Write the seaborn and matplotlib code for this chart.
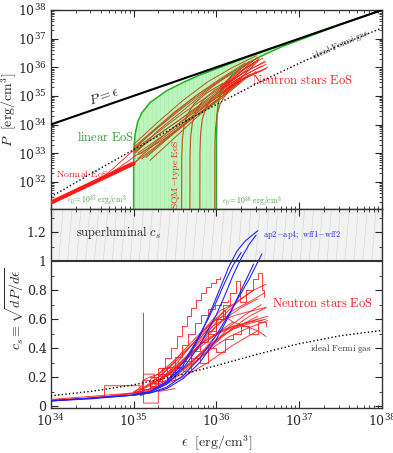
import numpy as np
import pandas as pd
import seaborn as sns
import matplotlib
matplotlib.use("Agg")
import matplotlib.pyplot as plt
import matplotlib.transforms as mtransforms
from matplotlib.ticker import FixedLocator, FixedFormatter, LogLocator, NullFormatter

# ---------------- data (log10 epsilon, log10 P  /  c_s) ----------------
peq_eps = [34.0, 38.0]
peq_logp = [34.0, 38.0]

fermi_eps = [34.0, 34.5, 35.0, 35.5, 36.0, 36.5, 37.0, 37.5, 38.0]
fermi_logp = [31.47, 32.31, 33.12, 33.92, 34.70, 35.45, 36.14, 36.78, 37.375]
fermi_cs = [0.070, 0.102, 0.146, 0.205, 0.279, 0.358, 0.430, 0.485, 0.522]

# linear EoS boundaries, eps0 = 1e35 and 1e36
lin35_eps = [35.0, 35.002, 35.01, 35.02, 35.05, 35.1, 35.2, 35.4, 35.6, 35.8, 36.0, 36.5, 37.0, 37.5, 38.0]
lin35_logp = [30.0, 32.66, 33.37, 33.67, 34.09, 34.41, 34.77, 35.18, 35.47, 35.73, 35.95, 36.49, 36.996, 37.4986, 37.9996]
lin36_eps = [36.0, 36.002, 36.01, 36.02, 36.05, 36.1, 36.2, 36.4, 36.6, 36.8, 37.0, 37.5, 38.0]
lin36_logp = [30.0, 33.66, 34.37, 34.67, 35.09, 35.41, 35.77, 36.18, 36.47, 36.73, 36.95, 37.49, 37.996]

normal_eps = [34.0, 35.0]
normal_logp = [31.27, 32.64]
branch_eps = [[34.6, 34.75, 34.9, 35.0], [34.65, 34.8, 34.95, 35.02], [34.7, 34.85, 35.0, 35.05]]
branch_logp = [[32.1, 32.45, 32.85, 33.1], [32.17, 32.45, 32.75, 32.9], [32.24, 32.42, 32.65, 32.75]]

brown_eps = [
    [35.0, 35.3, 35.6, 35.9, 36.2, 36.48],
    [35.0, 35.3, 35.6, 35.9, 36.2, 36.45],
    [35.05, 35.35, 35.65, 35.95, 36.25, 36.5],
    [35.0, 35.2, 35.5, 35.8, 36.1, 36.4],
    [35.1, 35.4, 35.7, 36.0, 36.3],
    [35.0, 35.25, 35.55, 35.85, 36.15, 36.45],
    [35.15, 35.45, 35.75, 36.05, 36.3],
    [35.0, 35.3, 35.6, 35.9, 36.2],
    [35.05, 35.35, 35.65, 35.95, 36.2],
    [35.2, 35.5, 35.8, 36.1, 36.35],
    [35.0, 35.15, 35.45, 35.75, 36.05, 36.35],
    [35.0, 35.3, 35.6, 35.9, 36.2],
    [35.0, 35.1, 35.4, 35.7, 36.0, 36.25],
    [35.02, 35.3, 35.6, 35.9, 36.15],
    [35.0, 35.2, 35.5, 35.8, 36.1, 36.3],
    [35.05, 35.25, 35.55, 35.85, 36.1, 36.4],
]
brown_logp = [
    [33.3, 34.1, 34.85, 35.5, 36.0, 36.4],
    [33.1, 33.75, 34.4, 35.0, 35.55, 36.1],
    [33.0, 33.6, 34.25, 34.85, 35.5, 36.2],
    [33.2, 33.7, 34.45, 35.1, 35.65, 36.2],
    [32.8, 33.5, 34.2, 34.85, 35.5],
    [33.05, 33.55, 34.15, 34.8, 35.45, 36.25],
    [32.85, 33.6, 34.3, 34.95, 35.55],
    [33.15, 33.9, 34.6, 35.25, 35.8],
    [32.95, 33.45, 34.1, 34.7, 35.3],
    [32.75, 33.55, 34.35, 35.0, 35.6],
    [33.1, 33.55, 34.3, 35.0, 35.6, 36.15],
    [32.65, 33.3, 34.0, 34.75, 35.3],
    [32.9, 33.0, 33.7, 34.4, 35.0, 35.5],
    [33.0, 33.8, 34.5, 35.2, 35.75],
    [33.0, 33.45, 34.05, 34.65, 35.25, 35.6],
    [32.8, 33.3, 33.95, 34.6, 35.15, 35.75],
]

sqm_eps = [
    [35.58, 35.582, 35.59, 35.61, 35.65, 35.73, 35.88, 36.08],
    [35.68, 35.682, 35.69, 35.71, 35.75, 35.83, 35.98, 36.18],
    [35.80, 35.802, 35.81, 35.83, 35.87, 35.95, 36.10, 36.30],
    [35.98, 35.982, 35.99, 36.01, 36.05, 36.13, 36.28],
]
sqm_logp = [
    [30.0, 32.77, 33.47, 33.96, 34.35, 34.72, 35.10, 35.44],
    [30.0, 32.87, 33.57, 34.06, 34.45, 34.82, 35.20, 35.54],
    [30.0, 32.99, 33.69, 34.18, 34.57, 34.94, 35.32, 35.66],
    [30.0, 33.17, 33.87, 34.36, 34.75, 35.12, 35.50],
]

tail_eps = [
    [36.05, 36.3, 36.55], [36.05, 36.3, 36.58], [36.1, 36.35, 36.6], [36.1, 36.3, 36.52],
    [36.08, 36.3, 36.6], [36.12, 36.35, 36.6], [36.05, 36.25, 36.5], [36.15, 36.4, 36.62],
    [36.1, 36.3, 36.55], [36.05, 36.3, 36.5], [36.12, 36.32, 36.56], [36.08, 36.28, 36.48],
]
tail_logp = [
    [35.2, 35.65, 36.05], [35.25, 35.75, 36.2], [35.3, 35.75, 36.1], [35.35, 35.85, 36.3],
    [35.15, 35.55, 35.95], [35.4, 35.85, 36.2], [35.3, 35.8, 36.25], [35.3, 35.7, 36.0],
    [35.2, 35.6, 35.9], [35.35, 35.95, 36.35], [35.45, 35.9, 36.32], [35.1, 35.5, 35.85],
]

# sound speed, neutron star EoS
red_eps = [
    [34.0, 34.5, 35.0, 35.2, 35.4, 35.6, 35.8, 36.0, 36.2, 36.4, 36.6],
    [34.0, 35.0, 35.2, 35.4, 35.6, 35.8, 36.0, 36.2, 36.4, 36.55],
    [35.0, 35.2, 35.4, 35.6, 35.8, 36.0, 36.2, 36.4, 36.6],
    [35.1, 35.3, 35.5, 35.7, 35.9, 36.1, 36.3, 36.5],
    [35.0, 35.3, 35.5, 35.7, 35.9, 36.1, 36.3, 36.5],
    [35.2, 35.4, 35.6, 35.8, 36.0, 36.1, 36.2],
    [35.3, 35.5, 35.7, 35.9, 36.05, 36.2, 36.35, 36.5, 36.6],
    [35.5, 35.7, 35.9, 36.1, 36.3, 36.5],
    [35.8, 36.0, 36.16, 36.35, 36.54],
    [35.6, 35.8, 36.0, 36.16, 36.35, 36.62],
    [35.4, 35.6, 35.8, 36.0, 36.2, 36.4, 36.58],
    [35.3, 35.5, 35.7, 35.9, 36.05, 36.2],
    [34.0, 34.6, 35.0, 35.3, 35.6, 35.9, 36.2, 36.5],
    [34.5, 34.65, 34.65, 35.08, 35.08, 35.2],
    [35.05, 35.12, 35.12, 35.25, 35.25, 35.35, 35.35, 35.45, 35.45, 35.55],
    [35.0, 35.12, 35.12, 35.12, 35.2, 35.3, 35.5],
    [35.12, 35.12, 35.3, 35.3, 35.5],
    [35.2, 35.4, 35.6, 35.8, 35.95, 36.1, 36.25, 36.45, 36.6],
    [35.3, 35.5, 35.7, 35.85, 36.0, 36.15, 36.3, 36.45],
    [35.6, 35.75, 35.9, 36.05, 36.2, 36.35, 36.5, 36.62],
    [35.15, 35.35, 35.55, 35.75, 35.95, 36.1],
    [35.7, 35.85, 36.0, 36.15, 36.3, 36.45, 36.6],
]
red_cs = [
    [0.04, 0.055, 0.085, 0.12, 0.18, 0.26, 0.36, 0.46, 0.53, 0.57, 0.6],
    [0.045, 0.09, 0.14, 0.21, 0.31, 0.42, 0.5, 0.55, 0.58, 0.59],
    [0.08, 0.11, 0.16, 0.23, 0.33, 0.44, 0.54, 0.62, 0.68],
    [0.12, 0.18, 0.27, 0.37, 0.47, 0.52, 0.56, 0.6],
    [0.1, 0.17, 0.25, 0.36, 0.5, 0.6, 0.68, 0.74],
    [0.15, 0.25, 0.38, 0.5, 0.6, 0.62, 0.58],
    [0.13, 0.2, 0.3, 0.42, 0.52, 0.58, 0.55, 0.52, 0.48],
    [0.22, 0.3, 0.4, 0.5, 0.56, 0.62],
    [0.35, 0.45, 0.55, 0.63, 0.70],
    [0.25, 0.33, 0.42, 0.48, 0.53, 0.59],
    [0.2, 0.3, 0.42, 0.55, 0.66, 0.72, 0.78],
    [0.16, 0.28, 0.42, 0.56, 0.66, 0.7],
    [0.04, 0.06, 0.09, 0.13, 0.2, 0.3, 0.42, 0.52],
    [0.06, 0.065, 0.14, 0.14, 0.07, 0.1],
    [0.1, 0.1, 0.22, 0.22, 0.15, 0.15, 0.26, 0.26, 0.2, 0.3],
    [0.09, 0.15, 0.64, 0.18, 0.2, 0.22, 0.3],
    [0.12, 0.02, 0.02, 0.1, 0.12],
    [0.18, 0.27, 0.37, 0.47, 0.55, 0.6, 0.63, 0.66, 0.68],
    [0.17, 0.26, 0.38, 0.5, 0.6, 0.68, 0.74, 0.8],
    [0.3, 0.38, 0.45, 0.52, 0.55, 0.57, 0.6, 0.62],
    [0.14, 0.22, 0.33, 0.45, 0.58, 0.66],
    [0.38, 0.48, 0.58, 0.66, 0.74, 0.8, 0.84],
]
step_eps = [
    [35.2, 35.3, 35.38, 35.45, 35.52, 35.58, 35.64, 35.7, 35.76, 35.82, 35.88, 35.94, 36.0, 36.05],
    [35.1, 35.2, 35.3, 35.4, 35.5, 35.58, 35.66, 35.74, 35.82, 35.9, 35.98, 36.06, 36.14],
    [35.9, 36.0, 36.08, 36.16, 36.24, 36.28, 36.36, 36.44, 36.5, 36.55, 36.58],
    [35.0, 35.1, 35.2, 35.3, 35.4, 35.5, 35.6, 35.7, 35.8, 35.9, 36.0, 36.1, 36.2, 36.3, 36.4, 36.5, 36.6],
    [35.1, 35.2, 35.3, 35.4, 35.5, 35.6, 35.7, 35.8, 35.9, 36.0, 36.1],
]
step_cs = [
    [0.2, 0.26, 0.33, 0.4, 0.48, 0.55, 0.62, 0.68, 0.73, 0.78, 0.82, 0.85, 0.88, 0.89],
    [0.12, 0.16, 0.21, 0.27, 0.34, 0.42, 0.5, 0.57, 0.63, 0.67, 0.7, 0.72, 0.73],
    [0.5, 0.6, 0.7, 0.78, 0.86, 0.72, 0.8, 0.88, 0.92, 0.8, 0.75],
    [0.1, 0.18, 0.14, 0.22, 0.18, 0.27, 0.24, 0.33, 0.3, 0.4, 0.37, 0.46, 0.5, 0.55, 0.5, 0.58, 0.55],
    [0.1, 0.13, 0.17, 0.22, 0.26, 0.31, 0.38, 0.44, 0.52, 0.6, 0.66],
]
# ap2-ap4, wff1-wff2
blue_eps = [
    [34.0, 34.5, 35.0, 35.2, 35.4, 35.6, 35.8, 35.95, 36.05, 36.15, 36.25, 36.35, 36.5],
    [34.0, 35.0, 35.2, 35.4, 35.6, 35.8, 36.0, 36.1, 36.2, 36.3, 36.4, 36.48],
    [34.0, 35.0, 35.2, 35.4, 35.6, 35.8, 36.0, 36.2, 36.4, 36.55],
    [35.0, 35.2, 35.4, 35.6, 35.8, 36.0, 36.15, 36.3, 36.45],
    [35.0, 35.2, 35.4, 35.6, 35.75, 35.9, 36.0, 36.1, 36.2, 36.3],
]
blue_cs = [
    [0.035, 0.05, 0.075, 0.1, 0.16, 0.28, 0.48, 0.68, 0.82, 0.96, 1.07, 1.14, 1.21],
    [0.035, 0.075, 0.095, 0.15, 0.26, 0.42, 0.63, 0.76, 0.9, 1.02, 1.12, 1.18],
    [0.035, 0.075, 0.09, 0.13, 0.21, 0.33, 0.49, 0.68, 0.88, 1.05],
    [0.075, 0.09, 0.12, 0.19, 0.3, 0.46, 0.62, 0.8, 0.98],
    [0.08, 0.1, 0.17, 0.3, 0.44, 0.6, 0.72, 0.85, 0.97, 1.06],
]

p_ticks = [1e32, 1e33, 1e34, 1e35, 1e36, 1e37, 1e38]
cs_ticks = [0, 0.2, 0.4, 0.6, 0.8, 1.0, 1.2]
cs_ticklabels = ["0", "0.2", "0.4", "0.6", "0.8", "1", "1.2"]


def long_df(eps_list, val_list, logval=True):
    rows = []
    for i, (e, v) in enumerate(zip(eps_list, val_list)):
        for a, b in zip(e, v):
            rows.append((i, 10.0 ** a, 10.0 ** b if logval else b))
    return pd.DataFrame(rows, columns=["id", "eps", "val"])


def curves(ax, eps_list, val_list, logval=True, **kw):
    df = long_df(eps_list, val_list, logval)
    sns.lineplot(data=df, x="eps", y="val", units="id", estimator=None, sort=False,
                 legend=False, ax=ax, **kw)


sns.set_theme(style="ticks")
plt.rcParams["font.family"] = "serif"
plt.rcParams["font.serif"] = ["DejaVu Serif"]
plt.rcParams["mathtext.fontset"] = "cm"
plt.rcParams["hatch.linewidth"] = 0.4

RED = "#ff1a1a"
BROWN = "#b8561c"
GREEN = "#22b022"
BLUE = "#2222ff"
TXTGREEN = "#3a9a3a"

fig = plt.figure(figsize=(3.93, 4.53), dpi=100)
ax1 = fig.add_axes([0.129, 0.5386, 0.843, 0.4393])
ax2 = fig.add_axes([0.129, 0.0993, 0.843, 0.4393])

for ax in (ax1, ax2):
    ax.set_xscale("log")
ax1.set_yscale("log")

# ---------- top panel ----------
fill_x = [10.0 ** a for a in lin35_eps] + [10.0 ** a for a in lin36_eps[::-1]]
fill_y = [10.0 ** a for a in lin35_logp] + [10.0 ** a for a in lin36_logp[::-1]]
ax1.fill(fill_x, fill_y, facecolor="#bdf6bd", edgecolor="#a6eaa6", hatch="||||", linewidth=0, zorder=1)
curves(ax1, [lin35_eps, lin36_eps], [lin35_logp, lin36_logp], color=GREEN, lw=1.1, zorder=3)

curves(ax1, brown_eps, brown_logp, color=BROWN, lw=0.7, zorder=4)
curves(ax1, sqm_eps, sqm_logp, color=BROWN, lw=0.8, zorder=4)
curves(ax1, tail_eps, tail_logp, color=RED, lw=0.6, zorder=4)
curves(ax1, branch_eps, branch_logp, color=RED, lw=0.6, zorder=4)
curves(ax1, [normal_eps], [normal_logp], color=RED, lw=3, zorder=5)
curves(ax1, [peq_eps], [peq_logp], color="black", lw=1.5, zorder=6)
curves(ax1, [fermi_eps], [fermi_logp], color="black", lw=1.0, linestyle=":", zorder=6)

ax1.set_ylim(10 ** 31.05, 1e38)
ax1.set_xlabel("")
ax1.set_ylabel(r"$P\ \ [\mathrm{erg/cm^3}]$", fontsize=10)
ax1.yaxis.set_label_coords(-0.095, 0.5)

ax1.text(10 ** 34.65, 10 ** 35.0, r"$P=\epsilon$", fontsize=10, rotation=19, ha="center", va="center")
ax1.text(10 ** 34.66, 10 ** 33.55, r"$\mathrm{linear\ EoS}$", fontsize=9, color=TXTGREEN, ha="center", va="center")
ax1.text(10 ** 34.06, 10 ** 32.3, r"$\mathrm{Normal\ EoS}$", fontsize=7, color=RED, ha="left", va="center")
ax1.text(10 ** 34.2, 10 ** 31.32, r"$\epsilon_0=10^{35}\ \mathrm{erg/cm^3}$", fontsize=5.5, color=TXTGREEN, ha="left", va="center")
ax1.text(10 ** 36.07, 10 ** 31.3, r"$\epsilon_0=10^{36}\ \mathrm{erg/cm^3}$", fontsize=5.5, color=TXTGREEN, ha="left", va="center")
ax1.text(10 ** 35.51, 10 ** 32.25, r"$\mathrm{SQM\!-\!type\ EoS}$", fontsize=7, color=RED, rotation=90, ha="center", va="center")
ax1.text(10 ** 36.43, 10 ** 35.55, r"$\mathrm{Neutron\ stars\ EoS}$", fontsize=9, color=RED, ha="left", va="center")
ax1.text(10 ** 37.5, 10 ** 36.8, r"$\mathrm{ideal\ Fermi\ gas}$", fontsize=6.5, color="#333333", rotation=24, ha="center", va="center")

# ---------- bottom panel ----------
ax2.axhspan(1.0, 1.4, facecolor="#f2f2f2", edgecolor="none", zorder=0)
blend = mtransforms.blended_transform_factory(ax2.transAxes, ax2.transData)
for x0 in np.arange(-0.03, 1.0, 0.027):
    ax2.plot([x0, x0 + 0.015], [1.0, 1.4], transform=blend, color="#d2d2d2", lw=0.4, zorder=0.5, clip_on=True)
ax2.axhline(1.0, color="#333333", lw=1.5, zorder=6)

curves(ax2, red_eps, red_cs, logval=False, color=RED, lw=0.7, alpha=0.85, zorder=3)
curves(ax2, step_eps, step_cs, logval=False, color=RED, lw=0.7, alpha=0.85, drawstyle="steps-post", zorder=3)
curves(ax2, blue_eps, blue_cs, logval=False, color=BLUE, lw=0.8, zorder=4)
curves(ax2, [fermi_eps], [fermi_cs], logval=False, color="black", lw=1.0, linestyle=":", zorder=5)

ax2.set_ylim(-0.014, 1.36)
ax2.yaxis.set_major_locator(FixedLocator(cs_ticks))
ax2.yaxis.set_major_formatter(FixedFormatter(cs_ticklabels))
ax2.yaxis.set_minor_locator(FixedLocator([0.1, 0.3, 0.5, 0.7, 0.9, 1.1, 1.3]))
ax2.set_ylabel(r"$c_s \equiv \sqrt{dP/d\epsilon}$", fontsize=10)
ax2.yaxis.set_label_coords(-0.075, 0.5)
ax2.set_xlabel(r"$\epsilon\ \ [\mathrm{erg/cm^3}]$", fontsize=10, labelpad=3)

ax2.text(10 ** 34.3, 1.2, r"$\mathrm{superluminal}\ c_s$", fontsize=9, ha="left", va="center")
ax2.text(10 ** 36.56, 1.18, r"$\mathrm{ap2\!-\!ap4;\ wff1\!-\!wff2}$", fontsize=6, color=BLUE, ha="left", va="center")
ax2.text(10 ** 36.67, 0.71, r"$\mathrm{Neutron\ stars\ EoS}$", fontsize=9, color=RED, ha="left", va="center")
ax2.text(10 ** 37.13, 0.40, r"$\mathrm{ideal\ Fermi\ gas}$", fontsize=6.5, color="#333333", ha="left", va="center")

# ---------- axes styling ----------
for ax in (ax1, ax2):
    ax.set_xlim(1e34, 1e38)
    ax.xaxis.set_major_locator(LogLocator(base=10, numticks=10))
    ax.xaxis.set_minor_locator(LogLocator(base=10, subs=np.arange(2, 10), numticks=50))
    ax.tick_params(which="both", direction="in", top=True, right=True, labelsize=9)
    ax.tick_params(which="major", length=5, width=0.8, pad=3)
    ax.tick_params(which="minor", length=2.5, width=0.6)
    for s in ax.spines.values():
        s.set_linewidth(1.0)
        s.set_color("#333333")
ax2.tick_params(axis="x", pad=4)
ax1.yaxis.set_major_locator(FixedLocator(p_ticks))
ax1.yaxis.set_minor_locator(LogLocator(base=10, subs=np.arange(2, 10), numticks=50))
ax1.yaxis.set_minor_formatter(NullFormatter())
ax1.set_xticklabels([])
ax1.set_xticklabels([], minor=True)

fig.savefig("out.png", dpi=100)
